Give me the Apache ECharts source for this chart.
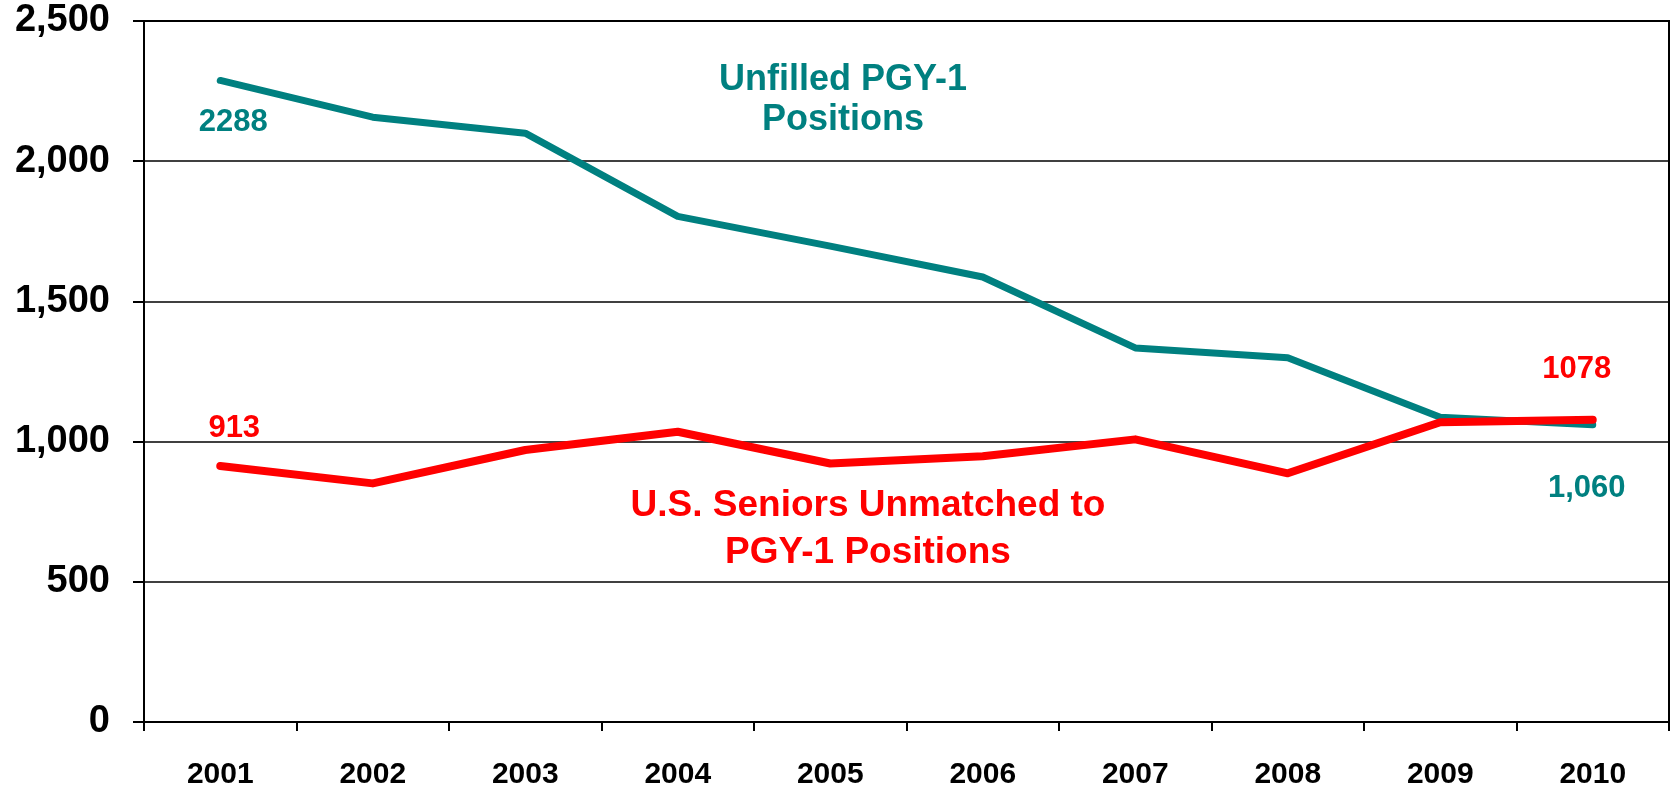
<!DOCTYPE html>
<html>
<head>
<meta charset="utf-8">
<script src="https://cdn.jsdelivr.net/npm/echarts@6/dist/echarts.min.js"></script>
<style>
  html, body { margin: 0; padding: 0; background: #fff; }
  #chart { width: 1673px; height: 790px; }
</style>
</head>
<body>
<div id="chart"></div>
<script>
// values
const years = ['2001', '2002', '2003', '2004', '2005', '2006', '2007', '2008', '2009', '2010'];
const unfilled = [2288, 2157, 2100, 1803, 1697, 1587, 1334, 1299, 1087, 1060];
const unmatched = [913, 851, 970, 1035, 922, 948, 1008, 887, 1069, 1078];
const yTicks = [0, 500, 1000, 1500, 2000, 2500];

const TEAL = '#008080';
const RED = '#ff0000';
const FONT = '"Liberation Sans", Arial, sans-serif';

// end labels only on first / last point
function withEnds(values, first, last) {
  return values.map((v, i) => {
    if (i === 0) return { value: v, label: Object.assign({ show: true }, first) };
    if (i === values.length - 1) return { value: v, label: Object.assign({ show: true }, last) };
    return v;
  });
}

const labelBase = { fontFamily: FONT, fontWeight: 'bold', fontSize: 31, position: 'inside' };

const chart = echarts.init(document.getElementById('chart'), null, { renderer: 'canvas' });
chart.setOption({
  animation: false,
  backgroundColor: '#fff',
  grid: {
    left: 144, right: 4, top: 21, bottom: 67,
    show: true, borderColor: '#000', borderWidth: 2,
  },
  xAxis: {
    type: 'category',
    data: years,
    boundaryGap: true,
    axisLine: { lineStyle: { color: '#000', width: 2 } },
    axisTick: { show: true, length: 9, lineStyle: { color: '#000', width: 2 } },
    axisLabel: {
      color: '#000', fontFamily: FONT, fontWeight: 'bold', fontSize: 30, margin: 38,
    },
  },
  yAxis: {
    type: 'value',
    min: 0, max: 2500, interval: 500,
    axisLine: { show: true, lineStyle: { color: '#000', width: 2 } },
    axisTick: { show: true, length: 11, lineStyle: { color: '#000', width: 2 } },
    splitLine: { lineStyle: { color: '#000', width: 1.5 } },
    axisLabel: {
      color: '#000', fontFamily: FONT, fontWeight: 'bold', fontSize: 38, margin: 34,
      formatter: (v) => (yTicks.includes(v) ? v.toLocaleString('en-US') : ''),
    },
  },
  series: [
    {
      name: 'Unfilled PGY-1 Positions',
      type: 'line',
      symbol: 'circle',
      symbolSize: 1,
      showAllSymbol: true,
      lineStyle: { color: TEAL, width: 7, cap: 'round', join: 'round' },
      itemStyle: { color: TEAL },
      data: withEnds(
        unfilled,
        Object.assign({}, labelBase, { color: TEAL, offset: [13, 42], formatter: '{c}' }),
        Object.assign({}, labelBase, { color: TEAL, offset: [-6, 64],
          formatter: (p) => p.value.toLocaleString('en-US') }),
      ),
      z: 2,
    },
    {
      name: 'U.S. Seniors Unmatched to PGY-1 Positions',
      type: 'line',
      symbol: 'circle',
      symbolSize: 1,
      showAllSymbol: true,
      lineStyle: { color: RED, width: 8, cap: 'round', join: 'round' },
      itemStyle: { color: RED },
      data: withEnds(
        unmatched,
        Object.assign({}, labelBase, { color: RED, offset: [14, -38], formatter: '{c}' }),
        Object.assign({}, labelBase, { color: RED, offset: [-16, -50], formatter: '{c}' }),
      ),
      z: 3,
    },
  ],
  graphic: [
    {
      type: 'text', x: 843, y: 100,
      style: {
        text: 'Unfilled PGY-1\nPositions', fill: TEAL, align: 'center', verticalAlign: 'middle',
        font: 'bold 36px ' + FONT, lineHeight: 40,
      },
    },
    {
      type: 'text', x: 868, y: 529,
      style: {
        text: 'U.S. Seniors Unmatched to\nPGY-1 Positions', fill: RED, align: 'center', verticalAlign: 'middle',
        font: 'bold 37px ' + FONT, lineHeight: 47,
      },
    },
  ],
});
</script>
</body>
</html>
